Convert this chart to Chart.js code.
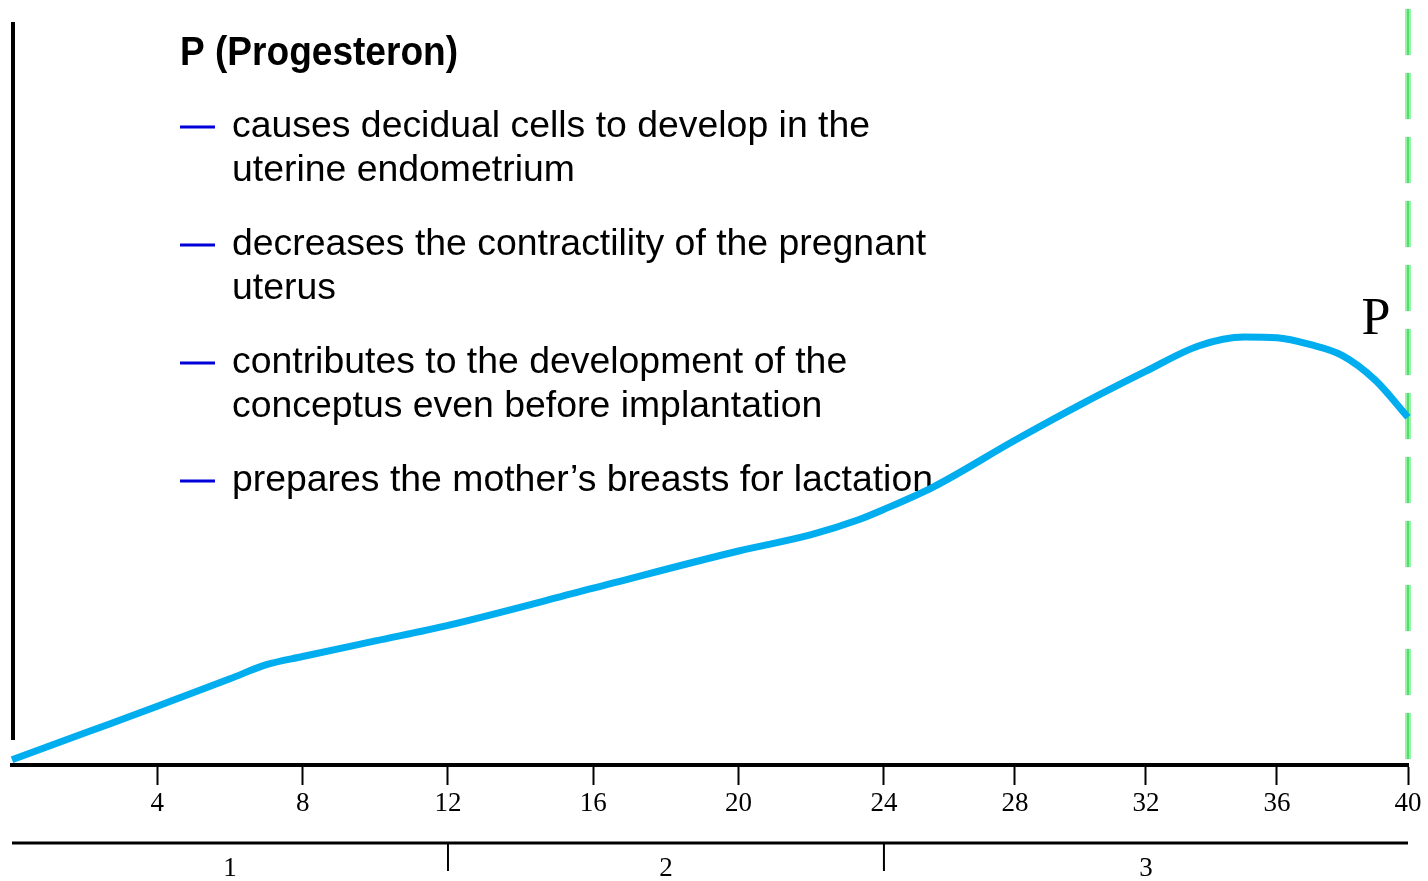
<!DOCTYPE html>
<html lang="en">
	<head>
		<meta charset="UTF-8" />
		<title>Progesteron</title>
		<style>
			html, body { margin: 0; padding: 0; background: #fff; }
			#chartContainer { width: 1428px; height: 881px; }
		</style>
	</head>
	<body>
		<div id="chartContainer">
			<canvas id="myChart" width="1428" height="881"></canvas>
		</div>
	</body>
	<script src="https://cdn.jsdelivr.net/npm/chart.js"></script>

	<script>
		// weeks of pregnancy and relative progesterone level
		var weeks = [0, 2, 4, 6, 7, 8, 10, 12, 16, 20, 22, 23.3, 24, 25.5, 28, 30, 32, 33.6, 35, 36, 37, 38, 39, 40];
		var levels = [0.7, 4.3, 7.9, 11.6, 13.5, 14.6, 16.7, 18.8, 23.8, 28.8, 31.0, 33.0, 34.4, 37.4, 43.7, 48.5, 53.0, 56.4, 57.6, 57.5, 56.6, 55.1, 51.8, 46.8];
		var tickWeeks = [4, 8, 12, 16, 20, 24, 28, 32, 36, 40];
		var trimesterBounds = [0, 12, 24, 40];
		var trimesterLabels = ['1', '2', '3'];
		var title = 'P (Progesteron)';
		var bullets = [
			['causes decidual cells to develop in the', 'uterine endometrium'],
			['decreases the contractility of the pregnant', 'uterus'],
			['contributes to the development of the', 'conceptus even before implantation'],
			['prepares the mother\u2019s breasts for lactation'],
		];
		var curveLabel = 'P';

		// x axis where weeks 0-24 take more room than weeks 24-40
		class PiecewiseScale extends Chart.LinearScale {
			_frac(v) {
				var b = this.options.breaks;
				for (var i = 1; i < b.length; i++) {
					if (v <= b[i].at || i == b.length - 1) {
						var t = (v - b[i - 1].at) / (b[i].at - b[i - 1].at);
						return b[i - 1].pos + t * (b[i].pos - b[i - 1].pos);
					}
				}
			}
			getPixelForValue(value) {
				return this.getPixelForDecimal(this._frac(value));
			}
			getValueForPixel(pixel) {
				var d = this.getDecimalForPixel(pixel);
				var b = this.options.breaks;
				for (var i = 1; i < b.length; i++) {
					if (d <= b[i].pos || i == b.length - 1) {
						var t = (d - b[i - 1].pos) / (b[i].pos - b[i - 1].pos);
						return b[i - 1].at + t * (b[i].at - b[i - 1].at);
					}
				}
			}
		}
		PiecewiseScale.id = 'piecewise';
		PiecewiseScale.defaults = Chart.LinearScale.defaults;
		Chart.register(PiecewiseScale);

		var serif = '"Liberation Serif", "Times New Roman", serif';
		var sans = '"Liberation Sans", Arial, sans-serif';

		var extras = {
			id: 'extras',
			beforeDatasetsDraw(chart) {
				var ctx = chart.ctx;
				var x = chart.scales.x;
				var area = chart.chartArea;
				ctx.save();
				// left axis line
				ctx.strokeStyle = '#000';
				ctx.lineWidth = 4;
				ctx.beginPath();
				ctx.moveTo(area.left + 1, area.top);
				ctx.lineTo(area.left + 1, area.bottom - 25);
				ctx.stroke();

				// term line at week 40
				var px = x.getPixelForValue(40);
				ctx.setLineDash([46, 18]);
				ctx.strokeStyle = 'rgba(140, 245, 160, 0.95)';
				ctx.lineWidth = 6;
				ctx.beginPath();
				ctx.moveTo(px, 9);
				ctx.lineTo(px, area.bottom - 2);
				ctx.stroke();
				ctx.strokeStyle = '#3fd35a';
				ctx.lineWidth = 1.5;
				ctx.stroke();
				ctx.setLineDash([]);

				// trimester axis
				var ty = area.bottom + 78;
				ctx.strokeStyle = '#000';
				ctx.lineWidth = 3;
				ctx.beginPath();
				ctx.moveTo(x.getPixelForValue(trimesterBounds[0]), ty);
				ctx.lineTo(x.getPixelForValue(trimesterBounds[trimesterBounds.length - 1]), ty);
				ctx.stroke();
				ctx.lineWidth = 2;
				for (var i = 1; i < trimesterBounds.length - 1; i++) {
					var bx = x.getPixelForValue(trimesterBounds[i]);
					ctx.beginPath();
					ctx.moveTo(bx, ty);
					ctx.lineTo(bx, ty + 28);
					ctx.stroke();
				}
				ctx.fillStyle = '#000';
				ctx.font = '27px ' + serif;
				ctx.textAlign = 'center';
				ctx.textBaseline = 'middle';
				for (var j = 0; j < trimesterLabels.length; j++) {
					var cx = (x.getPixelForValue(trimesterBounds[j]) + x.getPixelForValue(trimesterBounds[j + 1])) / 2;
					ctx.fillText(trimesterLabels[j], cx, ty + 26);
				}

				// text block
				ctx.textAlign = 'left';
				ctx.textBaseline = 'alphabetic';
				ctx.font = 'bold 41px ' + sans;
				var k = 278 / ctx.measureText(title).width;
				ctx.save();
				ctx.translate(180, 65);
				ctx.scale(k, 1);
				ctx.fillText(title, 0, 0);
				ctx.restore();

				ctx.font = '36px ' + sans;
				var kb = 701 / ctx.measureText(bullets[3][0]).width;
				bullets.forEach(function (lines, n) {
					var base = 137 + n * 118;
					ctx.strokeStyle = '#0000d8';
					ctx.lineWidth = 3;
					ctx.beginPath();
					ctx.moveTo(180, base - 10);
					ctx.lineTo(215, base - 10);
					ctx.stroke();
					lines.forEach(function (line, m) {
						ctx.save();
						ctx.translate(232, base + m * 44);
						ctx.scale(kb, 1);
						ctx.fillText(line, 0, 0);
						ctx.restore();
					});
				});

				// curve label
				ctx.font = '52px ' + serif;
				ctx.textAlign = 'center';
				ctx.fillText(curveLabel, x.getPixelForValue(40) - 32, 334);
				ctx.restore();
			},
		};

		new Chart(document.getElementById('myChart'), {
			type: 'line',
			data: {
				datasets: [
					{
						data: weeks.map(function (w, i) {
							return { x: w, y: levels[i] };
						}),
						borderColor: '#00aeef',
						borderWidth: 7,
						borderCapStyle: 'butt',
						pointRadius: 0,
						cubicInterpolationMode: 'monotone',
						fill: false,
						clip: false,
					},
				],
			},
			options: {
				responsive: false,
				animation: false,
				layout: { padding: { left: 12, right: 20, top: 22, bottom: 0 } },
				plugins: { legend: { display: false }, tooltip: { enabled: false } },
				scales: {
					x: {
						type: 'piecewise',
						min: 0,
						max: 40,
						breaks: [
							{ at: 0, pos: 0 },
							{ at: 24, pos: 0.6246 },
							{ at: 40, pos: 1 },
						],
						afterBuildTicks: function (scale) {
							scale.ticks = tickWeeks.map(function (v) {
								return { value: v };
							});
						},
						afterFit: function (scale) {
							scale.height = 116;
						},
						border: { display: true, color: '#000', width: 4 },
						grid: {
							display: true,
							drawOnChartArea: false,
							drawTicks: true,
							tickLength: 20,
							tickWidth: 2,
							tickColor: '#000',
						},
						ticks: {
							color: '#000',
							padding: 3,
							maxRotation: 0,
							autoSkip: false,
							font: { family: serif, size: 27 },
							callback: function (v) {
								return String(v);
							},
						},
					},
					y: { display: false, min: 0, max: 100 },
				},
			},
			plugins: [extras],
		});
	</script>
</html>
